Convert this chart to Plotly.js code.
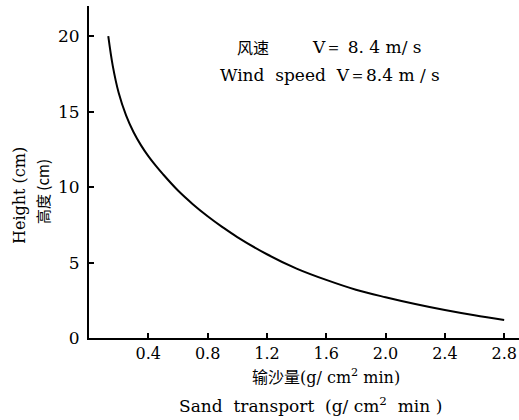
<!DOCTYPE html>
<html>
<head>
<meta charset="utf-8">
<script src="https://cdn.plot.ly/plotly-3.0.1.min.js"></script>
<style>html,body{margin:0;padding:0;background:#fff;}#chart{width:519px;height:420px;}</style>
</head>
<body>
<div id="chart"></div>
<script>
// Sand transport (g/cm^2 min) vs height (cm), wind speed 8.4 m/s
const sandTransport = [0.13, 0.16, 0.2, 0.25, 0.3, 0.35, 0.4, 0.45, 0.5, 0.6, 0.7, 0.8, 0.9, 1.0, 1.2, 1.4, 1.6, 1.8, 2.0, 2.2, 2.4, 2.6, 2.8];
const heightCm      = [20.0, 18.05, 16.25, 14.75, 13.65, 12.78, 12.05, 11.42, 10.84, 9.77, 8.87, 8.07, 7.35, 6.69, 5.55, 4.6, 3.85, 3.2, 2.7, 2.25, 1.85, 1.5, 1.2];
const xTickVals = [0.4, 0.8, 1.2, 1.6, 2.0, 2.4, 2.8];
const xTickText = ['0.4', '0.8', '1.2', '1.6', '2.0', '2.4', '2.8'];
const yTickVals = [0, 5, 10, 15, 20];

const serif = 'DejaVu Serif, Liberation Serif, serif';
const cjk = 'Noto Sans CJK SC, DejaVu Serif, serif';

const trace = {
  x: sandTransport, y: heightCm, type: 'scatter', mode: 'lines',
  line: {color: '#000', width: 2, shape: 'spline', smoothing: 1},
  hoverinfo: 'skip'
};

const W = 430, H = 332, L = 89, T = 6;
const px = v => (v - L) / W;
const py = v => 1 - (v - T) / H;

const layout = {
  width: 519, height: 420,
  margin: {l: 89, r: 0, t: 6, b: 82},
  paper_bgcolor: '#fff', plot_bgcolor: '#fff',
  showlegend: false,
  xaxis: {
    range: [0, 2.9], showgrid: false, zeroline: false,
    showline: true, linecolor: '#000', linewidth: 2,
    ticks: 'inside', ticklen: 5, tickwidth: 2, tickcolor: '#000',
    tickvals: xTickVals, ticktext: xTickText,
    tickfont: {family: serif, size: 16, color: '#000'}
  },
  yaxis: {
    range: [0, 22], showgrid: false, zeroline: false,
    showline: true, linecolor: '#000', linewidth: 2,
    ticks: 'inside', ticklen: 5, tickwidth: 2, tickcolor: '#000',
    tickvals: yTickVals, ticklabelstandoff: 4,
    tickfont: {family: serif, size: 17, color: '#000'}
  },
  annotations: [
    {text: '风速', xref: 'paper', yref: 'paper', x: px(253), y: py(47),
     xanchor: 'center', yanchor: 'middle', showarrow: false, font: {family: cjk, size: 16, color: '#000'}},
    {text: 'V＝ 8. 4 m/ s', xref: 'paper', yref: 'paper', x: px(367), y: py(47),
     xanchor: 'center', yanchor: 'middle', showarrow: false, font: {family: serif, size: 17, color: '#000'}},
    {text: 'Wind  speed  V＝8.4 m / s', xref: 'paper', yref: 'paper', x: px(330), y: py(75),
     xanchor: 'center', yanchor: 'middle', showarrow: false, font: {family: serif, size: 17, color: '#000'}},
    {text: '<span style="font-family:Noto Sans CJK SC">输沙量</span>(g/ cm<sup>2</sup> min)', xref: 'paper', yref: 'paper', x: px(326), y: py(376),
     xanchor: 'center', yanchor: 'middle', showarrow: false, font: {family: serif, size: 16, color: '#000'}},
    {text: 'Sand  transport  (g/ cm<sup>2</sup>  min )', xref: 'paper', yref: 'paper', x: px(310), y: py(405),
     xanchor: 'center', yanchor: 'middle', showarrow: false, font: {family: serif, size: 17, color: '#000'}},
    {text: 'Height (cm)', xref: 'paper', yref: 'paper', x: px(19), y: py(196),
     xanchor: 'center', yanchor: 'middle', textangle: -90, showarrow: false, font: {family: serif, size: 16, color: '#000'}},
    {text: '高度 (cm)', xref: 'paper', yref: 'paper', x: px(42), y: py(192),
     xanchor: 'center', yanchor: 'middle', textangle: -90, showarrow: false, font: {family: cjk, size: 15, color: '#000'}}
  ]
};

Plotly.newPlot('chart', [trace], layout, {staticPlot: true, displayModeBar: false});
</script>
</body>
</html>
